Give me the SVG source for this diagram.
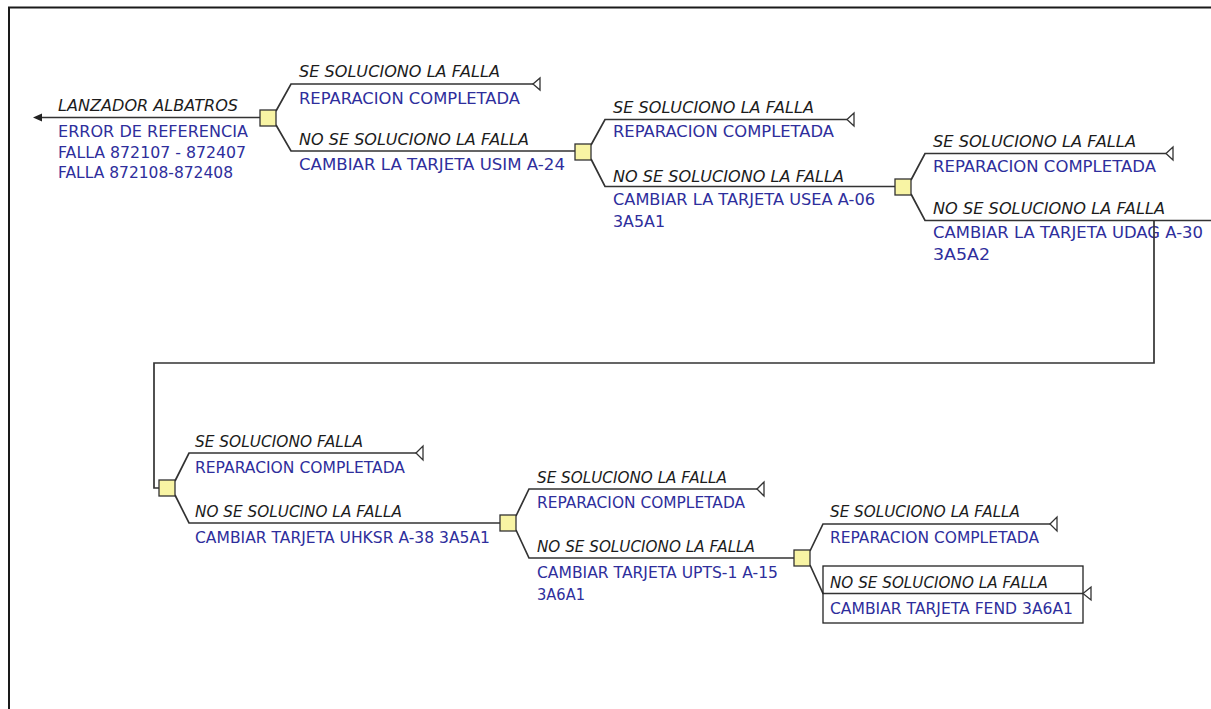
<svg xmlns="http://www.w3.org/2000/svg" width="1211" height="709" viewBox="0 0 1211 709">
<style>
.ln{fill:none;stroke:#333;stroke-width:1.7;stroke-linejoin:miter}
.tri{fill:#fff;stroke:#333;stroke-width:1.3}
.sq{fill:#f8f4a4;stroke:#333;stroke-width:1.3}
.t{font-family:"DejaVu Sans","Liberation Sans",Arial,sans-serif;font-size:15.5px}
.i{font-style:italic;fill:#1c1c1c}
.b{fill:#2e2e9c}
</style>
<rect width="1211" height="709" fill="#fff"/>
<path d="M9,709 V7.5 H1211" fill="none" stroke="#1a1a1a" stroke-width="2"/>

<g id="connectors">
<line class="ln" x1="40" y1="117.5" x2="260" y2="117.5"/>
<polygon points="33,117.5 42,113.5 42,121.5" fill="#222"/>
<polyline class="ln" points="276,111 291,84 533,84"/>
<polyline class="ln" points="276,125 291,151 575,151"/>
<polyline class="ln" points="591,145 605,119.5 847,119.5"/>
<polyline class="ln" points="591,159 605,186.5 895,186.5"/>
<polyline class="ln" points="911,180 925,153.5 1166,153.5"/>
<polyline class="ln" points="911,194 925,220.5 1211,220.5"/>
<polyline class="ln" points="175,481 189,453 416,453"/>
<polyline class="ln" points="175,495 189,523 500,523"/>
<polyline class="ln" points="516,516 529,489 757,489"/>
<polyline class="ln" points="516,530 529,558 794,558"/>
<polyline class="ln" points="810,551 823,524 1050,524"/>
<polyline class="ln" points="810,565 823,593.5 1083,593.5"/>
</g>

<g id="root">
<text class="t i" x="58" y="111" textLength="180" lengthAdjust="spacingAndGlyphs">LANZADOR ALBATROS</text>
<text class="t b" x="58" y="137" textLength="190" lengthAdjust="spacingAndGlyphs">ERROR DE REFERENCIA</text>
<text class="t b" x="58" y="158" textLength="188" lengthAdjust="spacingAndGlyphs">FALLA 872107 - 872407</text>
<text class="t b" x="58" y="178" textLength="175" lengthAdjust="spacingAndGlyphs">FALLA 872108-872408</text>
</g>

<g id="n1">
<rect class="sq" x="260" y="110" width="16" height="16"/>
</g>
<g id="n1-yes">
<text class="t i" x="299" y="77" textLength="201" lengthAdjust="spacingAndGlyphs">SE SOLUCIONO LA FALLA</text>
<text class="t b" x="299" y="104" textLength="221" lengthAdjust="spacingAndGlyphs">REPARACION COMPLETADA</text>
<polygon class="tri" points="533,84 540,78 540,90"/>
</g>
<g id="n1-no">
<text class="t i" x="299" y="144.5" textLength="230" lengthAdjust="spacingAndGlyphs">NO SE SOLUCIONO LA FALLA</text>
<text class="t b" x="299" y="170" textLength="266" lengthAdjust="spacingAndGlyphs">CAMBIAR LA TARJETA USIM A-24</text>
</g>

<g id="n2">
<rect class="sq" x="575" y="144" width="16" height="16"/>
</g>
<g id="n2-yes">
<text class="t i" x="613" y="113" textLength="201" lengthAdjust="spacingAndGlyphs">SE SOLUCIONO LA FALLA</text>
<text class="t b" x="613" y="137" textLength="221" lengthAdjust="spacingAndGlyphs">REPARACION COMPLETADA</text>
<polygon class="tri" points="847,119.5 854,113 854,126"/>
</g>
<g id="n2-no">
<text class="t i" x="613" y="181.5" textLength="231" lengthAdjust="spacingAndGlyphs">NO SE SOLUCIONO LA FALLA</text>
<text class="t b" x="613" y="205" textLength="262" lengthAdjust="spacingAndGlyphs">CAMBIAR LA TARJETA USEA A-06</text>
<text class="t b" x="613" y="227" textLength="52" lengthAdjust="spacingAndGlyphs">3A5A1</text>
</g>

<g id="n3">
<rect class="sq" x="895" y="179" width="16" height="16"/>
</g>
<g id="n3-yes">
<text class="t i" x="933" y="147" textLength="203" lengthAdjust="spacingAndGlyphs">SE SOLUCIONO LA FALLA</text>
<text class="t b" x="933" y="172" textLength="223" lengthAdjust="spacingAndGlyphs">REPARACION COMPLETADA</text>
<polygon class="tri" points="1166,153.5 1173,147 1173,160"/>
</g>
<g id="n3-no">
<text class="t i" x="933" y="214" textLength="232" lengthAdjust="spacingAndGlyphs">NO SE SOLUCIONO LA FALLA</text>
<text class="t b" x="933" y="238" textLength="270" lengthAdjust="spacingAndGlyphs">CAMBIAR LA TARJETA UDAG A-30</text>
<text class="t b" x="933" y="259.5" textLength="57" lengthAdjust="spacingAndGlyphs">3A5A2</text>
</g>

<g id="link">
<polyline class="ln" points="1154,220.5 1154,363 154,363 154,488 159,488"/>
</g>

<g id="n4">
<rect class="sq" x="159" y="480" width="16" height="16"/>
</g>
<g id="n4-yes">
<text class="t i" x="195" y="447" textLength="168" lengthAdjust="spacingAndGlyphs">SE SOLUCIONO FALLA</text>
<text class="t b" x="195" y="473" textLength="210" lengthAdjust="spacingAndGlyphs">REPARACION COMPLETADA</text>
<polygon class="tri" points="416,453 423,446 423,460"/>
</g>
<g id="n4-no">
<text class="t i" x="195" y="517" textLength="207" lengthAdjust="spacingAndGlyphs">NO SE SOLUCINO LA FALLA</text>
<text class="t b" x="195" y="542.5" textLength="295" lengthAdjust="spacingAndGlyphs">CAMBIAR TARJETA UHKSR A-38 3A5A1</text>
</g>

<g id="n5">
<rect class="sq" x="500" y="515" width="16" height="16"/>
</g>
<g id="n5-yes">
<text class="t i" x="537" y="483" textLength="190" lengthAdjust="spacingAndGlyphs">SE SOLUCIONO LA FALLA</text>
<text class="t b" x="537" y="508" textLength="208" lengthAdjust="spacingAndGlyphs">REPARACION COMPLETADA</text>
<polygon class="tri" points="757,489 764,482 764,496"/>
</g>
<g id="n5-no">
<text class="t i" x="537" y="552" textLength="218" lengthAdjust="spacingAndGlyphs">NO SE SOLUCIONO LA FALLA</text>
<text class="t b" x="537" y="578" textLength="241" lengthAdjust="spacingAndGlyphs">CAMBIAR TARJETA UPTS-1 A-15</text>
<text class="t b" x="537" y="600" textLength="48" lengthAdjust="spacingAndGlyphs">3A6A1</text>
</g>

<g id="n6">
<rect class="sq" x="794" y="550" width="16" height="16"/>
</g>
<g id="n6-yes">
<text class="t i" x="830" y="516.5" textLength="190" lengthAdjust="spacingAndGlyphs">SE SOLUCIONO LA FALLA</text>
<text class="t b" x="830" y="543" textLength="209" lengthAdjust="spacingAndGlyphs">REPARACION COMPLETADA</text>
<polygon class="tri" points="1050,524 1057,517 1057,531"/>
</g>
<g id="n6-no">
<rect x="823" y="566" width="260" height="57" fill="none" stroke="#222" stroke-width="1.3"/>
<text class="t i" x="830" y="588" textLength="218" lengthAdjust="spacingAndGlyphs">NO SE SOLUCIONO LA FALLA</text>
<text class="t b" x="830" y="614" textLength="243" lengthAdjust="spacingAndGlyphs">CAMBIAR TARJETA FEND 3A6A1</text>
<polygon class="tri" points="1083,593.5 1091,587 1091,600"/>
</g>
</svg>
